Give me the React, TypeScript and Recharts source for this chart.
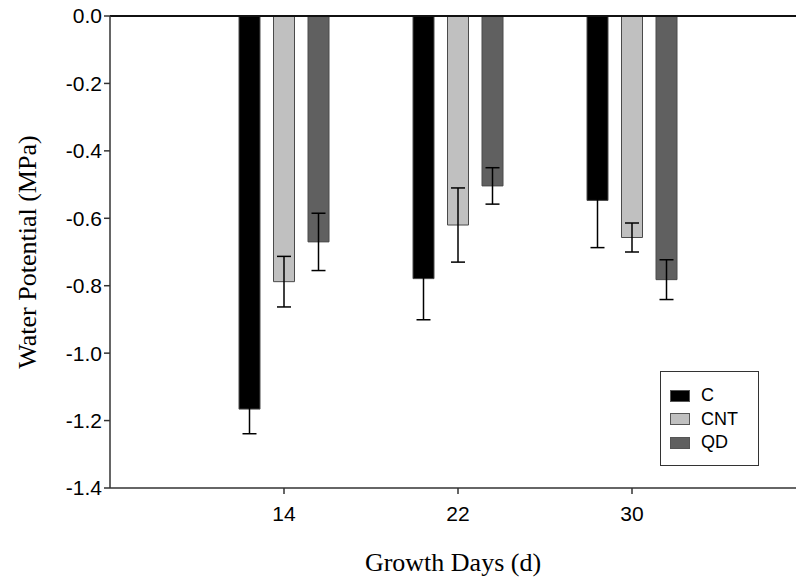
import React from "react";
import {
  BarChart,
  Bar,
  XAxis,
  YAxis,
  ErrorBar,
  ReferenceLine,
} from "recharts";

const days = ["14", "22", "30"];
const cValues = [-1.166, -0.779, -0.547];
const cntValues = [-0.788, -0.62, -0.657];
const qdValues = [-0.67, -0.504, -0.782];
const cErr = [0.073, 0.122, 0.14];
const cntErr = [0.075, 0.11, 0.043];
const qdErr = [0.085, 0.054, 0.059];
const yTicks = [0, -0.2, -0.4, -0.6, -0.8, -1.0, -1.2, -1.4];

const SERIES = [
  { key: "C", err: "cErr", fill: "#000000" },
  { key: "CNT", err: "cntErr", fill: "#c0c0c0" },
  { key: "QD", err: "qdErr", fill: "#606060" },
];

const SANS = "Liberation Sans, Arial, sans-serif";
const SERIF = "Liberation Serif, Times New Roman, serif";

const data = days.map((d, i) => ({
  day: d,
  C: cValues[i],
  CNT: cntValues[i],
  QD: qdValues[i],
  cErr: cErr[i],
  cntErr: cntErr[i],
  qdErr: qdErr[i],
}));

// legend box sits inside the plot, lower right
function LegendBox() {
  return (
    <div
      style={{
        position: "absolute",
        left: 660,
        top: 371,
        width: 99,
        height: 95,
        border: "1px solid #333",
        background: "#fff",
        boxSizing: "border-box",
        padding: "12px 0 0 9px",
      }}
    >
      {SERIES.map((s) => (
        <div
          key={s.key}
          style={{ display: "flex", alignItems: "center", height: 23.5 }}
        >
          <span
            style={{
              display: "inline-block",
              width: 20,
              height: 12,
              background: s.fill,
              border: "1px solid #555",
              boxSizing: "border-box",
              marginRight: 11,
            }}
          />
          <span style={{ fontFamily: SANS, fontSize: 18, color: "#000" }}>
            {s.key}
          </span>
        </div>
      ))}
    </div>
  );
}

export default function App() {
  return (
    <div
      style={{
        position: "absolute",
        left: 0,
        top: 0,
        width: 796,
        height: 581,
        background: "#fff",
      }}
    >
      <BarChart
        width={796}
        height={581}
        data={data}
        margin={{ top: 16, right: 0, bottom: 0, left: 0 }}
        barSize={21}
        barGap={13.5}
      >
        <XAxis
          dataKey="day"
          height={93}
          padding={{ left: 87, right: 77 }}
          axisLine={{ stroke: "#333", strokeWidth: 1.5 }}
          tickLine={{ stroke: "#333", strokeWidth: 1.5 }}
          tickSize={6}
          tick={{ fill: "#000", fontSize: 21, fontFamily: SANS, dy: 10 }}
          label={{
            value: "Growth Days (d)",
            position: "insideBottom",
            offset: 10,
            style: { fill: "#000", fontSize: 26, fontFamily: SERIF },
          }}
        />
        <YAxis
          width={110}
          domain={[-1.4, 0]}
          ticks={yTicks}
          interval={0}
          allowDataOverflow
          axisLine={{ stroke: "#333", strokeWidth: 1.5 }}
          tickLine={{ stroke: "#333", strokeWidth: 1.5 }}
          tickSize={6}
          tickFormatter={(v: number) => v.toFixed(1)}
          tick={{ fill: "#000", fontSize: 21, fontFamily: SANS }}
          label={{
            value: "Water Potential (MPa)",
            angle: -90,
            position: "insideLeft",
            offset: 27,
            style: {
              fill: "#000",
              fontSize: 26,
              fontFamily: SERIF,
              textAnchor: "middle",
            },
          }}
        />
        <ReferenceLine y={0} stroke="#111" strokeWidth={2} />
        {SERIES.map((s) => (
          <Bar
            key={s.key}
            dataKey={s.key}
            fill={s.fill}
            stroke="#4a4a4a"
            strokeWidth={1}
            isAnimationActive={false}
          >
            <ErrorBar
              dataKey={s.err}
              width={7}
              stroke="#000"
              strokeWidth={1.5}
              direction="y"
            />
          </Bar>
        ))}
      </BarChart>
      <LegendBox />
    </div>
  );
}
